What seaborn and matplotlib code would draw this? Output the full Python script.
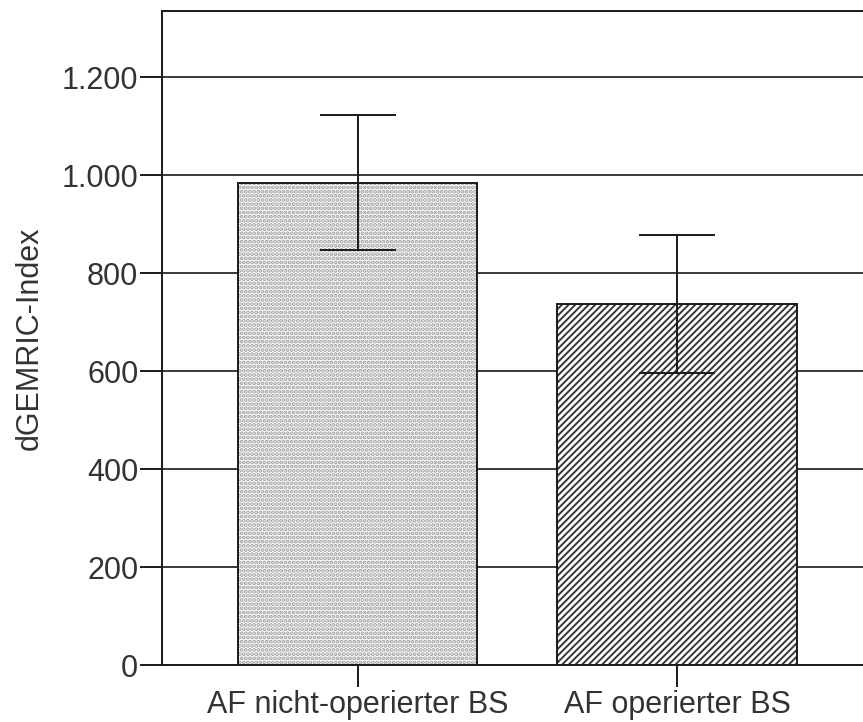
import matplotlib
matplotlib.use("Agg")
import matplotlib.pyplot as plt
from matplotlib.patches import Rectangle
import seaborn as sns
import pandas as pd

# Mean dGEMRIC index per group with standard deviation
groups = ["AF nicht-operierter BS", "AF operierter BS"]
means = [985, 738]
sds = [138, 141]
hatches = ["....", "/////"]
hatch_colors = ["#9c9c9c", "#383838"]
hatch_widths = [2.0, 1.4]

df = pd.DataFrame({"Gruppe": groups, "dGEMRIC-Index": means})

sns.set_theme(style="white")
plt.rcParams["font.family"] = ["Liberation Sans", "DejaVu Sans"]

fig = plt.figure(figsize=(8.63, 7.22), dpi=100)
ax = fig.add_axes([0.1877, 0.0783, 0.8239, 0.9065])

sns.barplot(data=df, x="Gruppe", y="dGEMRIC-Index", errorbar=None,
            color="white", width=0.75, ax=ax, zorder=2)

# hatch fill in a grey tone, black outline drawn on top
for patch, h, hc, hw in zip(ax.patches, hatches, hatch_colors, hatch_widths):
    patch.set_hatch(h)
    patch.set_edgecolor(hc)
    patch.set_linewidth(0)
    patch.set_facecolor("white")
    if hasattr(patch, "set_hatch_linewidth"):
        patch.set_hatch_linewidth(hw)
    else:
        patch._hatch_linewidth = hw
    ax.add_patch(Rectangle(patch.get_xy(), patch.get_width(), patch.get_height(),
                           fill=False, edgecolor="#1a1a1a", linewidth=1.4, zorder=3))

ax.errorbar(range(len(groups)), means, yerr=sds, fmt="none", ecolor="#1a1a1a",
            elinewidth=1.4, capsize=27.5, capthick=1.4, zorder=4)

ax.set_xlim(-0.611, 1.611)
ax.set_ylim(0, 1335)
ax.set_yticks(range(0, 1201, 200))
ax.set_yticklabels(["0", "200", "400", "600", "800", "1.000", "1.200"])

ax.yaxis.grid(True, color="#2a2a2a", linewidth=1.3, zorder=0)
ax.set_axisbelow(True)

for side in ["left", "bottom", "top", "right"]:
    ax.spines[side].set_visible(True)
    ax.spines[side].set_color("#1a1a1a")
    ax.spines[side].set_linewidth(1.4)

ax.tick_params(axis="both", which="major", direction="out", length=16, width=1.4,
               color="#1a1a1a", labelsize=22, labelcolor="#333333",
               left=True, bottom=True)
ax.tick_params(axis="y", pad=1)
ax.tick_params(axis="x", pad=2)

ax.set_xlabel("")
ax.set_ylabel("dGEMRIC-Index", fontsize=22, color="#333333", labelpad=12)

fig.savefig("out.png", dpi=100)
